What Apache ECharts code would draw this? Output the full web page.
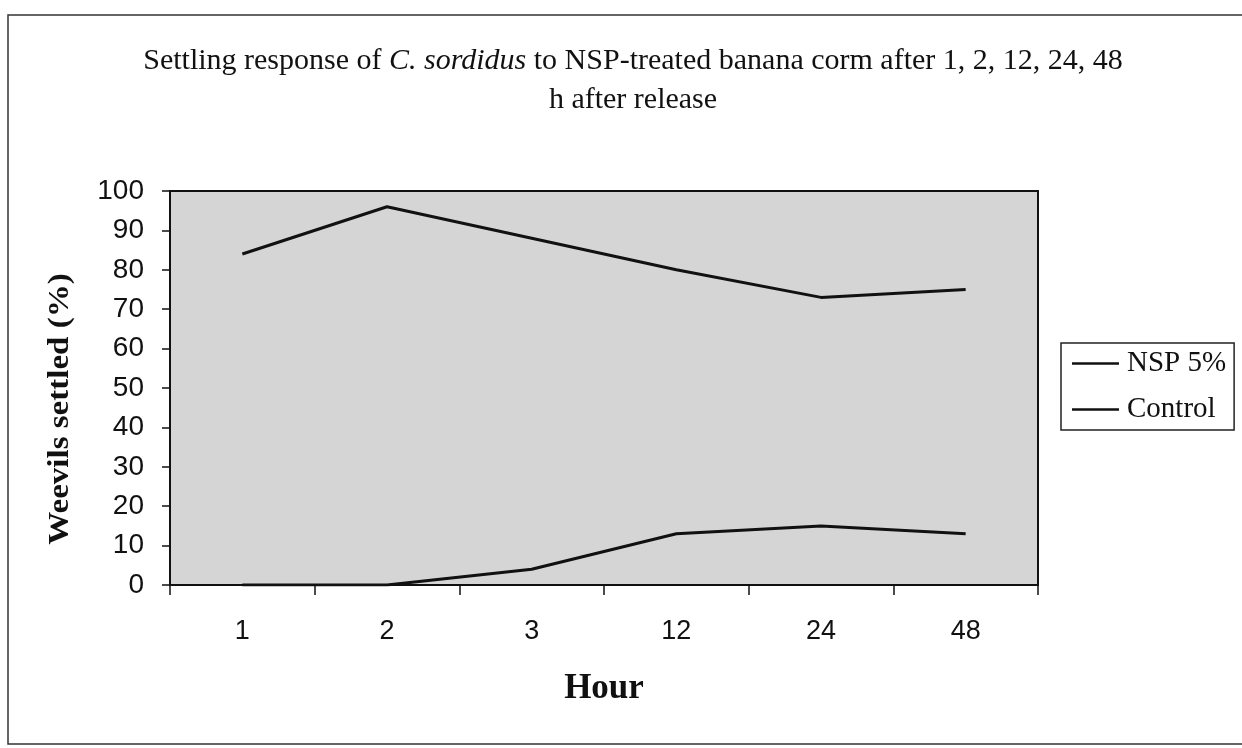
<!DOCTYPE html>
<html>
<head>
<meta charset="utf-8">
<script src="https://cdn.jsdelivr.net/npm/echarts@6/dist/echarts.min.js"></script>
<style>
  html, body { margin: 0; padding: 0; background: #fff; }
  #chart { width: 1242px; height: 748px; }
</style>
</head>
<body>
<div id="chart"></div>
<script>
// hours after release (category axis)
var hours = ['1', '2', '3', '12', '24', '48'];
// weevils settled (%)
var nspValues = [84, 96, 88, 80, 73, 75];
var controlValues = [0, 0, 4, 13, 15, 13];
var yTicks = [0, 10, 20, 30, 40, 50, 60, 70, 80, 90, 100];

var chart = echarts.init(document.getElementById('chart'));

var option = {
    backgroundColor: '#fff',
    animation: false,
    title: {
        text: 'Settling response of {i|C. sordidus} to NSP-treated banana corm after 1, 2, 12, 24, 48\nh after release',
        left: 628,
        top: 37,
        textAlign: 'center',
        textStyle: {
            fontFamily: 'Liberation Serif',
            fontSize: 30,
            fontWeight: 'normal',
            color: '#111',
            lineHeight: 39,
            rich: {
                i: {
                    fontFamily: 'Liberation Serif',
                    fontStyle: 'italic',
                    fontSize: 30,
                    color: '#111',
                    lineHeight: 39
                }
            }
        }
    },
    legend: {
        orient: 'vertical',
        left: 1061,
        top: 343,
        icon: 'rect',
        itemWidth: 47,
        itemHeight: 2.5,
        itemGap: 17,
        padding: [6, 8, 6, 11],
        borderColor: '#222',
        borderWidth: 1.5,
        backgroundColor: '#fff',
        itemStyle: { color: '#111' },
        textStyle: {
            fontFamily: 'Liberation Serif',
            fontSize: 29,
            lineHeight: 29,
            color: '#111',
            padding: [0, 0, 0, 3]
        },
        data: ['NSP 5%', 'Control']
    },
    grid: {
        left: 170,
        top: 191,
        right: 204,
        bottom: 163,
        show: true,
        backgroundColor: '#d5d5d5',
        borderColor: '#111',
        borderWidth: 2
    },
    xAxis: {
        type: 'category',
        data: hours,
        boundaryGap: true,
        name: 'Hour',
        nameLocation: 'middle',
        nameGap: 86,
        nameTextStyle: {
            fontFamily: 'Liberation Serif',
            fontWeight: 'bold',
            fontSize: 35,
            color: '#111'
        },
        axisLine: { lineStyle: { color: '#111', width: 2 } },
        axisTick: { show: true, length: 10, lineStyle: { color: '#111', width: 1.5 } },
        axisLabel: {
            fontFamily: 'Liberation Sans',
            fontSize: 27,
            color: '#111',
            margin: 33
        },
        splitLine: { show: false }
    },
    yAxis: {
        type: 'value',
        min: yTicks[0],
        max: yTicks[yTicks.length - 1],
        interval: 10,
        axisLine: { show: true, lineStyle: { color: '#111', width: 2 } },
        axisTick: { show: true, length: 8, lineStyle: { color: '#111', width: 1.5 } },
        axisLabel: {
            fontFamily: 'Liberation Sans',
            fontSize: 28,
            color: '#111',
            margin: 26
        },
        splitLine: { show: false }
    },
    series: [
        {
            name: 'NSP 5%',
            type: 'line',
            data: nspValues,
            symbol: 'none',
            color: '#111',
            lineStyle: { color: '#111', width: 3 }
        },
        {
            name: 'Control',
            type: 'line',
            data: controlValues,
            symbol: 'none',
            color: '#111',
            lineStyle: { color: '#111', width: 3 }
        }
    ],
    graphic: [
        {
            // outer chart frame
            type: 'rect',
            shape: { x: 8, y: 15, width: 1260, height: 729 },
            style: { fill: 'none', stroke: '#333', lineWidth: 1.5 },
            silent: true,
            z: -1
        },
        {
            // y axis title, placed a bit below the plot centre like the scan
            type: 'text',
            x: 60,
            y: 409,
            rotation: Math.PI / 2,
            scaleX: 1.1,
            style: {
                text: 'Weevils settled (%)',
                font: 'bold 30px "Liberation Serif"',
                fill: '#111',
                align: 'center',
                verticalAlign: 'middle'
            },
            silent: true
        }
    ]
};

chart.setOption(option);
</script>
</body>
</html>
